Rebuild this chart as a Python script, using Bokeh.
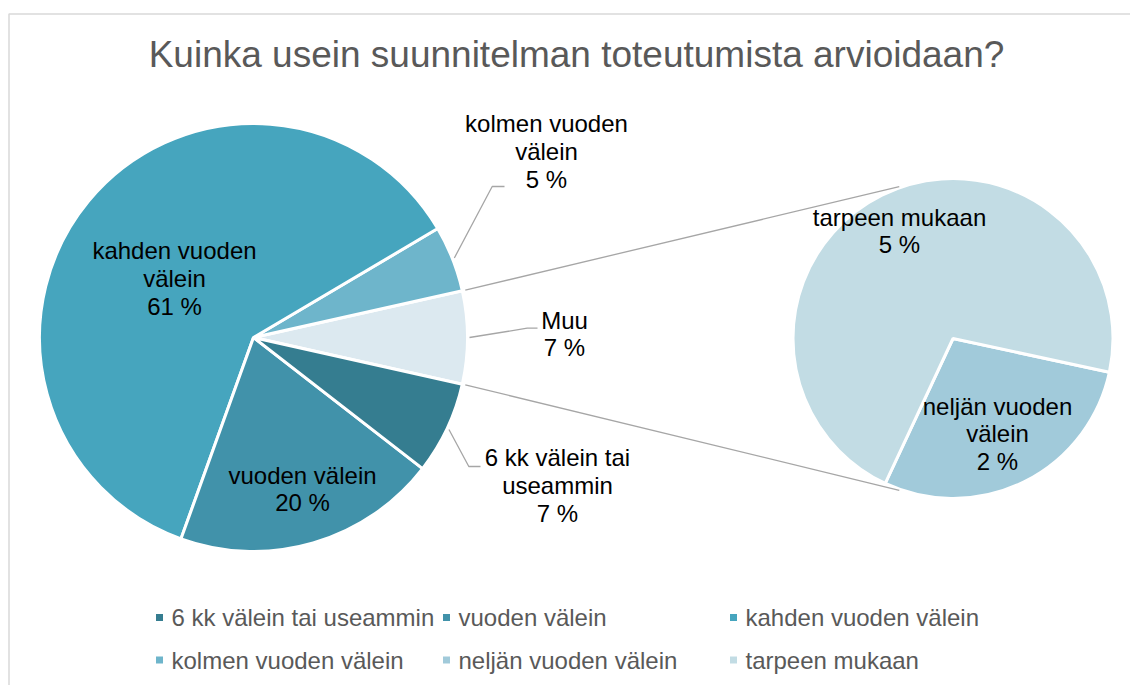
import math
from bokeh.plotting import figure
from bokeh.models import Range1d
from bokeh.core.properties import value
from bokeh.embed import file_html
from bokeh.resources import INLINE

# ---------------- data ----------------
title_text = "Kuinka usein suunnitelman toteutumista arvioidaan?"
categories = ["6 kk välein tai useammin", "vuoden välein", "kahden vuoden välein",
              "kolmen vuoden välein", "neljän vuoden välein", "tarpeen mukaan"]
values = [7, 20, 61, 5, 2, 5]
wrapped = ["6 kk välein tai\nuseammin", "vuoden välein", "kahden vuoden\nvälein",
           "kolmen vuoden\nvälein", "neljän vuoden\nvälein", "tarpeen mukaan"]
colors = ["#357D90", "#4192AA", "#46A5BE", "#6EB5CB", "#A1CADA", "#C2DCE4"]
other_name = "Muu"
other_color = "#DCE9F0"
main_idx = [3, 2, 1, 0]      # counter-clockwise after the "Muu" slice
second_idx = [4, 5]          # split into the secondary pie

# ---------------- layout ----------------
W, H = 1130, 685
FONT = "Liberation Sans"
def Y(py):
    return H - py

p = figure(width=W, height=H, output_backend="svg", toolbar_location=None,
           x_range=Range1d(0, W), y_range=Range1d(0, H), min_border=0,
           outline_line_color=None, x_axis_type=None, y_axis_type=None)
p.grid.visible = False
p.background_fill_color = "white"
p.border_fill_color = "white"

# chart border
p.line([8.5, 8.5, W + 5], [-5, Y(13.5), Y(13.5)], line_color="#D9D9D9", line_width=1.5)

# title
p.text([576], [Y(53.5)], text=[title_text], text_font=value(FONT), text_font_size="37px",
       text_color="#595959", text_align="center", text_baseline="middle")

# ---------------- main pie ----------------
cx, cy, r = 253, Y(337), 214
total = float(sum(values))
other_val = sum(values[i] for i in second_idx)
half_other = other_val / total * math.pi
starts, ends, fills, mids = [], [], [], {}
starts.append(-half_other); ends.append(half_other); fills.append(other_color)
mids["other"] = 0.0
a = half_other
for i in main_idx:
    span = values[i] / total * 2 * math.pi
    starts.append(a); ends.append(a + span); fills.append(colors[i])
    mids[i] = a + span / 2
    a += span
p.wedge(x=cx, y=cy, radius=r, start_angle=starts, end_angle=ends, fill_color=fills,
        line_color="white", line_width=3)

# ---------------- secondary pie ----------------
sx, sy, sr = 952.5, Y(338), 160
s0 = math.radians(-12.2)
sub_total = float(other_val)
a4 = values[4] / sub_total * 2 * math.pi
s_starts = [s0 - a4, s0]
s_ends = [s0, s0 - a4 + 2 * math.pi]
p.wedge(x=sx, y=sy, radius=sr, start_angle=s_starts, end_angle=s_ends,
        fill_color=[colors[4], colors[5]], line_color="white", line_width=3)

# connector lines
tan = math.radians(70.5)
for sgn in (1, -1):
    x0 = cx + (r + 3) * math.cos(sgn * half_other)
    y0 = cy + (r + 3) * math.sin(sgn * half_other)
    ang = math.pi - sgn * tan
    x1 = sx + (sr + 1) * math.cos(ang)
    y1 = sy + (sr + 1) * math.sin(ang)
    p.line([x0, x1], [y0, y1], line_color="#A6A6A6", line_width=1.3)

# leader lines (start on slice edge at mid angle, elbow near label)
leaders = [(3, (491.7, Y(186)), (504, Y(186))),
           ("other", (526.7, Y(327.7)), (537, Y(327.7))),
           (0, (468.3, Y(466)), (480, Y(466)))]
for key, elbow, end in leaders:
    m = mids[key]
    x0 = cx + (r + 2) * math.cos(m)
    y0 = cy + (r + 2) * math.sin(m)
    p.line([x0, elbow[0], end[0]], [y0, elbow[1], end[1]], line_color="#A6A6A6", line_width=1.3)

# data labels
lab_pos = {0: (557, Y(485)), 1: (302, Y(488.7)), 2: (174, Y(278)), 3: (546, Y(151)),
           4: (997, Y(433.4)), 5: (899, Y(230.5))}
lx, ly, lt = [], [], []
for i in range(len(categories)):
    lx.append(lab_pos[i][0]); ly.append(lab_pos[i][1])
    lt.append(f"{wrapped[i]}\n{values[i]} %")
lx.append(564); ly.append(Y(333.5)); lt.append(f"{other_name}\n{other_val} %")
p.text(lx, ly, text=lt, text_font=value(FONT), text_font_size="24px", text_color="#000000",
       text_align="center", text_baseline="middle", text_line_height=1.02)

# legend
leg_x = [159, 446, 733]
leg_y = [Y(617), Y(659.5)]
mx, my, mc, tx, ty, tt = [], [], [], [], [], []
for i, name in enumerate(categories):
    row, col = divmod(i, 3)
    mx.append(leg_x[col]); my.append(leg_y[row]); mc.append(colors[i])
    tx.append(leg_x[col] + 12); ty.append(leg_y[row]); tt.append(name)
p.scatter(mx, my, marker="square", size=7, fill_color=mc, line_color=None)
p.text(tx, ty, text=tt, text_font=value(FONT), text_font_size="24px", text_color="#595959",
       text_align="left", text_baseline="middle")

open("out.html", "w").write(file_html(p, INLINE))
